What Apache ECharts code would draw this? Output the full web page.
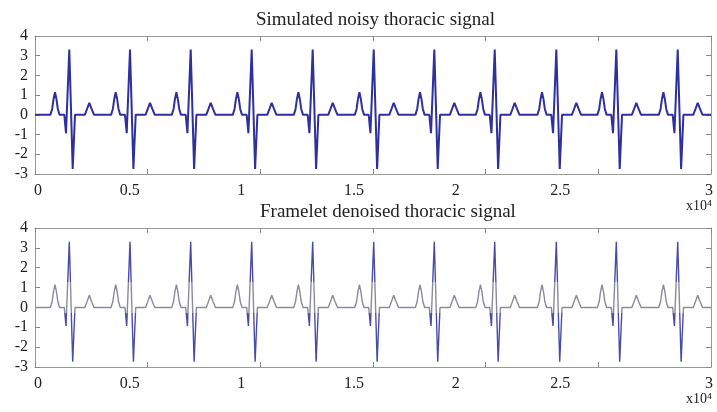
<!DOCTYPE html>
<html>
<head>
<meta charset="utf-8">
<script src="https://cdn.jsdelivr.net/npm/echarts@6/dist/echarts.min.js"></script>
<style>
  html, body { margin: 0; padding: 0; background: #fff; }
  #graph { width: 717px; height: 412px; }
</style>
</head>
<body>
<div id="graph"></div>
<script>
// R peak positions (samples)
const rPeaks = [1522, 4216, 6910, 9617, 12324, 15032, 17721, 20402, 23136, 25798, 28523];
// one beat, relative to its R peak: P, Q, R, S, T
const beatOffsets = [-840, -760, -700, -635, -570, -510, -430, -222, -146, 0, 151, 253, 690, 790, 888, 990, 1100];
const beatValues = [0, 0.3, 0.8, 1.15, 0.8, 0.3, 0, 0, -0.93, 3.31, -2.74, 0, 0, 0.3, 0.61, 0.3, 0];
const xTicks = [0, 0.5, 1, 1.5, 2, 2.5, 3];
const titles = ['Simulated noisy thoracic signal', 'Framelet denoised thoracic signal'];

const font = "'Liberation Serif', 'Times New Roman', serif";

function buildSignal() {
  let pts = [[0, 0]];
  for (let i = 0; i < rPeaks.length; i++) {
    for (let j = 0; j < beatOffsets.length; j++) {
      pts.push([rPeaks[i] + beatOffsets[j], beatValues[j]]);
    }
  }
  pts.push([30000, 0]);
  return pts;
}
const signal = buildSignal();

// labels in the figure sit a bit off their ticks
const labelShift = [3, -18, -19, -19, -30, -38, -2];
let rich = {};
labelShift.forEach(function (s, i) {
  rich['s' + i] = {
    fontFamily: font, fontSize: 16, color: '#222',
    padding: s >= 0 ? [0, 0, 0, 2 * s] : [0, -2 * s, 0, 0]
  };
});

function ticks() {
  return {show: true, inside: true, length: 5, lineStyle: {color: '#888', width: 1}};
}
function line() {
  return {show: true, onZero: false, lineStyle: {color: '#999', width: 1}};
}

let grids = [
  {left: 35, top: 36, width: 676, height: 138},
  {left: 35, top: 228, width: 676, height: 139}
];
let xAxes = [], yAxes = [], series = [];
grids.forEach(function (g, k) {
  xAxes.push({
    type: 'value', gridIndex: k, position: 'bottom', min: 0, max: 30000, interval: 5000,
    axisLine: line(), axisTick: ticks(), splitLine: {show: false},
    axisLabel: {
      margin: 9,
      formatter: function (v) {
        const i = Math.round(v / 5000);
        return '{s' + i + '|' + xTicks[i] + '}';
      },
      rich: rich
    }
  });
  xAxes.push({
    type: 'value', gridIndex: k, position: 'top', min: 0, max: 30000, interval: 5000,
    axisLine: line(), axisTick: ticks(), splitLine: {show: false},
    axisLabel: {show: false}
  });
  yAxes.push({
    type: 'value', gridIndex: k, position: 'left', min: -3, max: 4, interval: 1,
    axisLine: line(), axisTick: ticks(), splitLine: {show: false},
    axisLabel: {fontFamily: font, fontSize: 16, color: '#222', margin: 7}
  });
  yAxes.push({
    type: 'value', gridIndex: k, position: 'right', min: -3, max: 4, interval: 1,
    axisLine: line(), axisTick: ticks(), splitLine: {show: false},
    axisLabel: {show: false}
  });
});

series.push({
  type: 'line', xAxisIndex: 0, yAxisIndex: 0, data: signal,
  showSymbol: false, animation: false,
  lineStyle: {color: '#2f2f9e', width: 2}
});
series.push({
  type: 'line', xAxisIndex: 2, yAxisIndex: 2, data: signal,
  showSymbol: false, animation: false,
  lineStyle: {width: 1.4}
});

let myChart = echarts.init(document.getElementById('graph'));
myChart.setOption({
  backgroundColor: '#fff',
  animation: false,
  title: [
    {text: titles[0], left: 251, top: 6, textStyle: {fontFamily: font, fontSize: 19, fontWeight: 'normal', color: '#222'}},
    {text: titles[1], left: 255, top: 198, textStyle: {fontFamily: font, fontSize: 19, fontWeight: 'normal', color: '#222'}}
  ],
  grid: grids,
  xAxis: xAxes,
  yAxis: yAxes,
  visualMap: {
    show: false, type: 'piecewise', seriesIndex: 1, dimension: 1,
    pieces: [
      {lt: -0.3, color: '#4a4aa8'},
      {gte: -0.3, lte: 1.3, color: '#8a8a9e'},
      {gt: 1.3, color: '#4a4aa8'}
    ]
  },
  graphic: [
    {type: 'text', left: 686, top: 199, style: {text: 'x10\u2074', font: '14px ' + font, fill: '#222'}},
    {type: 'text', left: 686, top: 392, style: {text: 'x10\u2074', font: '14px ' + font, fill: '#222'}}
  ],
  series: series
});
</script>
</body>
</html>
